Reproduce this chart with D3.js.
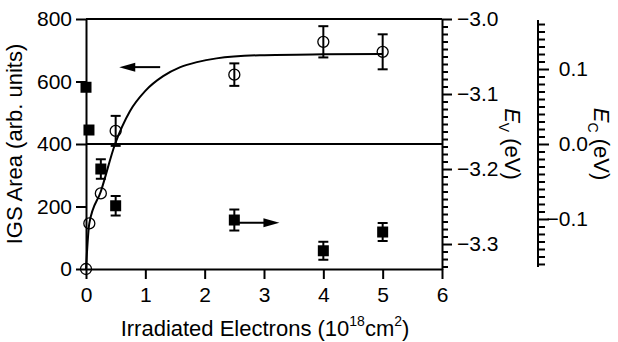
<!DOCTYPE html>
<html>
<head>
<meta charset="utf-8">
<script src="https://cdn.jsdelivr.net/npm/d3@7"></script>
<style>
  body { margin: 0; background: #fff; }
  svg { font-family: "Liberation Sans", Arial, sans-serif; }
</style>
</head>
<body>
<svg id="chart" width="618" height="342"></svg>
<script>
const width = 618
const height = 342
const margin = { top: 19, right: 176, bottom: 73, left: 86 }

// IGS area (open circles, left axis)
const areaX = [0, 0.056, 0.25, 0.5, 2.5, 4, 5]
const areaY = [0, 146, 242, 442, 622, 727, 695]
const areaErr = [0, 0, 0, 48, 36, 50, 56]

// fitted curve, points
const fitX = [0, 0.056, 0.25, 0.49, 0.74, 1.0, 1.3, 1.58, 1.87, 2.2, 2.93, 4, 5]
const fitY = [0, 146, 248, 400, 505, 570, 617, 645, 662, 674, 684, 687, 688]

// valence band edge (filled squares, right axis)
const evX = [0, 0.05, 0.25, 0.5, 2.5, 4, 5]
const evY = [-3.091, -3.148, -3.200, -3.249, -3.268, -3.309, -3.284]
const evErr = [0, 0, 0.013, 0.013, 0.014, 0.012, 0.012]

const xTicks = [0, 1, 2, 3, 4, 5, 6]
const yTicks = [0, 200, 400, 600, 800]
const evTicks = [-3.0, -3.1, -3.2, -3.3]
const ecTicks = [0.1, 0.0, -0.1]

const svg = d3.select('#chart')
const x0 = margin.left
const x1 = width - margin.right
const y0 = height - margin.bottom
const y1 = margin.top

const x = d3.scaleLinear().domain([0, 6]).range([x0, x1])
const y = d3.scaleLinear().domain([0, 800]).range([y0, y1])
const yEv = d3.scaleLinear().domain([-3.3333, -3.0]).range([y0, y1])
const yEc = d3.scaleLinear().domain([-0.1667, 0.1667]).range([y0, y1])

const fs = 21

// frame + middle line
const frame = svg.append('g').attr('stroke', '#000').attr('stroke-width', 2)
frame.append('line').attr('x1', x0).attr('x2', x1).attr('y1', y1).attr('y2', y1)
frame.append('line').attr('x1', x0).attr('x2', x1).attr('y1', y(400)).attr('y2', y(400))

// bottom axis
svg.append('g')
  .attr('transform', `translate(0,${y0})`)
  .call(d3.axisBottom(x).tickValues(xTicks).tickFormat(d3.format('d')).tickSize(10).tickSizeOuter(0).tickPadding(8))
  .call(g => g.selectAll('text').attr('font-size', fs).attr('font-family', null))

// left axis
svg.append('g')
  .attr('transform', `translate(${x0},0)`)
  .call(d3.axisLeft(y).tickValues(yTicks).tickSize(10).tickSizeOuter(0).tickPadding(4))
  .call(g => g.selectAll('text').attr('font-size', fs).attr('font-family', null))

// right axis E_V
const evMinor = d3.range(-333, -299).map(d => d / 100).filter(d => Math.abs(d * 10 - Math.round(d * 10)) > 1e-6)
svg.append('g')
  .attr('transform', `translate(${x1},0)`)
  .call(d3.axisRight(yEv).tickValues(evMinor).tickSize(6).tickSizeOuter(0).tickFormat(''))
  .call(g => g.select('.domain').remove())
svg.append('g')
  .attr('transform', `translate(${x1},0)`)
  .call(d3.axisRight(yEv).tickValues(evTicks).tickFormat(d3.format('.1f')).tickSize(10).tickSizeOuter(0).tickPadding(5))
  .call(g => g.selectAll('text').attr('font-size', fs).attr('font-family', null))

// second right axis E_C
const ecX = 538
const ecMinor = d3.range(-16, 17).map(d => d / 100).filter(d => Math.abs(d * 10 - Math.round(d * 10)) > 1e-6)
svg.append('g')
  .attr('transform', `translate(${ecX},0)`)
  .call(d3.axisRight(yEc).tickValues(ecMinor).tickSize(7).tickSizeOuter(0).tickFormat(''))
  .call(g => g.select('.domain').attr('d', `M0,${yEc(0.1667) + 1}V${yEc(-0.1667) - 2}`))
svg.append('g')
  .attr('transform', `translate(${ecX},0)`)
  .call(d3.axisRight(yEc).tickValues(ecTicks).tickFormat(d3.format('.1f')).tickSize(11).tickSizeOuter(0).tickPadding(5))
  .call(g => g.select('.domain').remove())
  .call(g => g.selectAll('text').attr('font-size', fs).attr('font-family', null)
    .attr('text-anchor', 'end').attr('x', 50))

svg.selectAll('.domain, .tick line').attr('stroke-width', 2)

// axis titles
svg.append('text')
  .attr('transform', `translate(22,${(y0 + y1) / 2}) rotate(-90)`)
  .attr('text-anchor', 'middle')
  .attr('font-size', 22)
  .text('IGS Area (arb. units)')

const xt = svg.append('text')
  .attr('x', (x0 + x1) / 2 + 1).attr('y', 336)
  .attr('text-anchor', 'middle')
  .attr('font-size', 22)
xt.append('tspan').text('Irradiated Electrons (10')
xt.append('tspan').attr('font-size', 14).attr('dy', -10).text('18')
xt.append('tspan').attr('dy', 10).text('cm')
xt.append('tspan').attr('font-size', 14).attr('dy', -10).text('2')
xt.append('tspan').attr('dy', 10).text(')')

function rightTitle(px, sub) {
  const t = svg.append('text')
    .attr('transform', `translate(${px},${(y0 + y1) / 2}) rotate(90)`)
    .attr('text-anchor', 'middle')
    .attr('font-size', 22)
  t.append('tspan').attr('font-style', 'italic').text('E')
  t.append('tspan').attr('font-size', 14).attr('dy', 6).text(sub)
  t.append('tspan').attr('dy', -6).text(' (eV)')
}
rightTitle(505, 'V')
rightTitle(594, 'C')

// fit curve
svg.append('path')
  .datum(fitX.map((d, i) => [d, fitY[i]]))
  .attr('fill', 'none').attr('stroke', '#000').attr('stroke-width', 2)
  .attr('d', d3.line().x(d => x(d[0])).y(d => y(d[1])).curve(d3.curveMonotoneX))

// error bars
function errBars(xs, ys, es, sc) {
  const g = svg.append('g').attr('stroke', '#000').attr('stroke-width', 2)
  xs.forEach((d, i) => {
    if (!es[i]) return
    const cx = x(d), t = sc(ys[i] + es[i]), b = sc(ys[i] - es[i])
    g.append('line').attr('x1', cx).attr('x2', cx).attr('y1', t).attr('y2', b)
    g.append('line').attr('x1', cx - 5).attr('x2', cx + 5).attr('y1', t).attr('y2', t)
    g.append('line').attr('x1', cx - 5).attr('x2', cx + 5).attr('y1', b).attr('y2', b)
  })
}
errBars(areaX, areaY, areaErr, y)
errBars(evX, evY, evErr, yEv)

// open circles
svg.append('g').selectAll('circle')
  .data(areaX)
  .join('circle')
  .attr('cx', d => x(d))
  .attr('cy', (d, i) => y(areaY[i]))
  .attr('r', 5.5)
  .attr('fill', 'none').attr('stroke', '#000').attr('stroke-width', 1.3)

// filled squares
svg.append('g').selectAll('rect')
  .data(evX)
  .join('rect')
  .attr('x', d => x(d) - 5.5)
  .attr('y', (d, i) => yEv(evY[i]) - 5.5)
  .attr('width', 11).attr('height', 11)
  .attr('fill', '#000')

// arrows
function arrow(xa, xb, py) {
  const dir = Math.sign(xb - xa)
  svg.append('line')
    .attr('x1', xa).attr('x2', xb - dir * 12).attr('y1', py).attr('y2', py)
    .attr('stroke', '#000').attr('stroke-width', 2)
  svg.append('path')
    .attr('d', `M${xb},${py}L${xb - dir * 16},${py - 4.5}L${xb - dir * 16},${py + 4.5}Z`)
    .attr('fill', '#000')
}
arrow(x(1.25), x(0.56), y(646))
arrow(x(2.5), x(3.26), yEv(-3.2716))
</script>
</body>
</html>
